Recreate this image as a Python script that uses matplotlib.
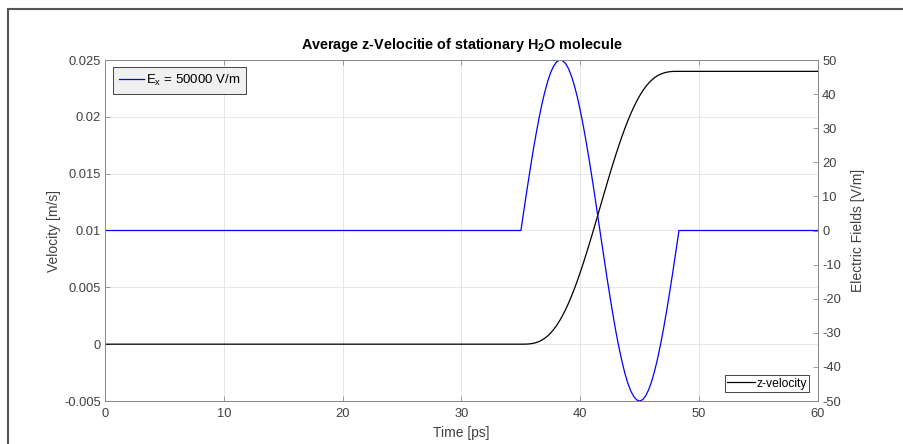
import numpy as np
import matplotlib.pyplot as plt
from matplotlib.patches import Rectangle

plt.rcParams['font.family'] = ['Liberation Sans', 'DejaVu Sans']
plt.rcParams['mathtext.fontset'] = 'custom'
plt.rcParams['mathtext.rm'] = 'Liberation Sans'
plt.rcParams['mathtext.it'] = 'Liberation Sans'
plt.rcParams['mathtext.bf'] = 'Liberation Sans:bold'
plt.rcParams['axes.unicode_minus'] = False

# time axis [ps]
time_ps = [0, 35.0, 35.25, 35.5, 35.75, 36.0, 36.25, 36.5, 36.75, 37.0, 37.25,
           37.5, 37.75, 38.0, 38.25, 38.5, 38.75, 39.0, 39.25, 39.5, 39.75,
           40.0, 40.25, 40.5, 40.75, 41.0, 41.25, 41.5, 41.75, 42.0, 42.25,
           42.5, 42.75, 43.0, 43.25, 43.5, 43.75, 44.0, 44.25, 44.5, 44.75,
           45.0, 45.25, 45.5, 45.75, 46.0, 46.25, 46.5, 46.75, 47.0, 47.25,
           47.5, 47.75, 48.0, 48.25, 48.3, 60]

# electric field E_x [V/m] (right axis)
efield = [0, 0, 5.9, 11.7, 17.3, 22.8, 27.8, 32.5, 36.8, 40.5, 43.7,
          46.3, 48.2, 49.4, 50.0, 49.8, 49.0, 47.5, 45.3, 42.5, 39.1,
          35.1, 30.7, 25.8, 20.6, 15.1, 9.4, 3.5, -2.4, -8.2, -14.0,
          -19.5, -24.8, -29.8, -34.3, -38.3, -41.9, -44.8, -47.1, -48.7, -49.7,
          -50.0, -49.6, -48.5, -46.7, -44.3, -41.2, -37.6, -33.4, -28.8, -23.8,
          -18.5, -12.9, -7.1, -1.2, 0, 0]

# average z-velocity [m/s] (left axis)
velocity = [0, 0, 0.000001, 0.000008, 0.000028, 0.000067, 0.000129, 0.000221, 0.000348, 0.000514, 0.000722,
            0.000978, 0.001283, 0.001639, 0.002047, 0.002509, 0.003024, 0.003590, 0.004208, 0.004871, 0.005585,
            0.006339, 0.007127, 0.007953, 0.008800, 0.009670, 0.010560, 0.011458, 0.012360, 0.013259, 0.014150,
            0.015026, 0.015881, 0.016709, 0.017507, 0.018267, 0.018987, 0.019661, 0.020288, 0.020866, 0.021391,
            0.021864, 0.022284, 0.022651, 0.022966, 0.023230, 0.023449, 0.023624, 0.023756, 0.023850, 0.023922,
            0.023966, 0.023994, 0.023998, 0.024, 0.024, 0.024]

x_ticks = [0, 10, 20, 30, 40, 50, 60]
v_ticks = [-0.005, 0, 0.005, 0.01, 0.015, 0.02, 0.025]
v_labels = ['-0.005', '0', '0.005', '0.01', '0.015', '0.02', '0.025']
e_ticks = [-50, -40, -30, -20, -10, 0, 10, 20, 30, 40, 50]

axcol = '#404040'
spcol = '#8a8a8a'
fig = plt.figure(figsize=(9.04, 4.44), dpi=100)
fig.patches.append(Rectangle((8 / 904, -0.1), 1.2, 1 - 9 / 444 + 0.1, transform=fig.transFigure,
                             fill=False, edgecolor='#555555', linewidth=1.5))

ax = fig.add_axes([105 / 904, 1 - 401 / 444, 713 / 904, 341 / 444])
ax2 = ax.twinx()

ax.plot(time_ps, velocity, color='black', linewidth=0.9, label='z-velocity')
ax2.plot(time_ps, efield, color='#0000ff', linewidth=0.9, label='E$_x$ = 50000 V/m')

ax.set_xlim(0, 60)
ax.set_ylim(-0.005, 0.025)
ax2.set_ylim(-50, 50)
ax.set_xticks(x_ticks)
ax.set_yticks(v_ticks)
ax.set_yticklabels(v_labels)
ax2.set_yticks(e_ticks)

ax.grid(True, color='#e2e2e2', linewidth=0.6)
ax.set_axisbelow(True)

for a in (ax, ax2):
    for s in a.spines.values():
        s.set_color(spcol)
        s.set_linewidth(0.7)
ax.tick_params(axis='x', direction='in', top=True, length=3.5, width=0.6, pad=5,
               labelsize=9.3, color=spcol, labelcolor=axcol)
ax.tick_params(axis='y', direction='in', length=3.5, width=0.6, pad=3,
               labelsize=9.3, color=spcol, labelcolor=axcol)
ax2.tick_params(axis='y', direction='in', length=3.5, width=0.6, pad=3,
                labelsize=9.3, color=spcol, labelcolor=axcol)

ax.set_xlabel('Time [ps]', fontsize=10, color=axcol, labelpad=4)
ax.set_ylabel('Velocity [m/s]', fontsize=10, color=axcol, labelpad=2)
ax2.set_ylabel('Electric Fields [V/m]', fontsize=10, color=axcol, labelpad=7)
ax.set_title(r'Average z-Velocitie of stationary H$_\mathbf{2}$O molecule',
             fontsize=10.4, fontweight='bold', color='black', pad=8)

h1, l1 = ax2.get_legend_handles_labels()
h2, l2 = ax.get_legend_handles_labels()
leg1 = ax2.legend(h1, l1, loc='upper left', bbox_to_anchor=(0.011, 0.979),
                  borderaxespad=0, fancybox=False, fontsize=9.5, handlelength=1.9,
                  handletextpad=0.15, borderpad=0.45, framealpha=1)
leg1.get_frame().set_facecolor('#f0f0f0')
leg1.get_frame().set_edgecolor('#262626')
leg1.get_frame().set_linewidth(0.6)
ax2.add_artist(leg1)
leg2 = ax2.legend(h2, l2, loc='lower right', bbox_to_anchor=(0.9875, 0.026),
                  borderaxespad=0, fancybox=False, fontsize=8.7, handlelength=2.3,
                  handletextpad=0.1, borderpad=0.2, framealpha=1)
leg2.get_frame().set_facecolor('white')
leg2.get_frame().set_edgecolor('#262626')
leg2.get_frame().set_linewidth(0.6)

fig.savefig('out.png', dpi=100)
